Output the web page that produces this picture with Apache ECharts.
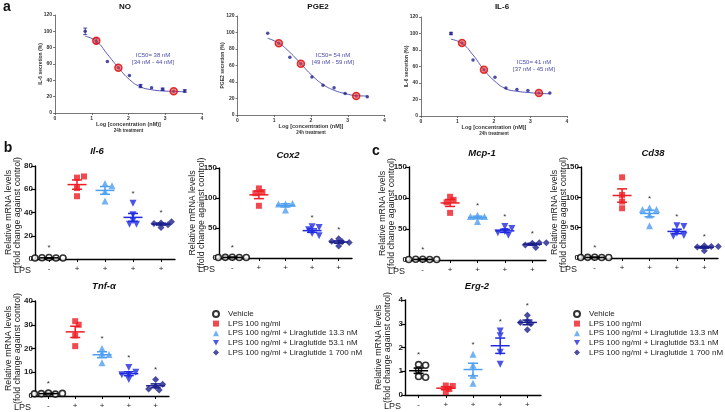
<!DOCTYPE html>
<html><head><meta charset="utf-8">
<script src="https://cdn.jsdelivr.net/npm/echarts@6/dist/echarts.min.js"></script>
<style>html,body{margin:0;padding:0;background:#fff}#c{width:725px;height:412px}</style>
</head><body><div id="c"></div>
<script>
// ================= DATA =================
// Panel a: dose-response (x = log10 concentration, nM)
const logConc = [0.822, 1.124, 1.425, 1.725, 2.026, 2.327, 2.628, 2.929, 3.230, 3.531];
const markIdx = [1, 3, 8]; // 13.3, 53.1, 1700 nM
const noMean  = [100, 88, 63, 55.5, 46, 33, 31, 29, 26.5, 27];
const noErr   = [4, 3, 0, 0, 0, 2, 0, 1.5, 0, 1.5];
const noFit   = [94, 88, 72, 55.5, 41, 32, 28.5, 27, 26.5, 26];
const noMark  = [88.5, 55.5, 26.5];
const pgeMean = [99, 87, 70, 62, 46, 36, 33, 26, 23, 22];
const pgeErr  = [0, 0, 0, 0, 0, 0, 0, 0, 0, 0];
const pgeFit  = [93, 87, 76, 62, 48, 37, 30, 26, 23.5, 23];
const pgeMark = [87, 62, 23];
const il6Mean = [100, 88.5, 68, 56, 47, 34, 32, 31, 28, 28];
const il6Err  = [1.5, 0, 0, 0, 0, 0, 0, 0, 0, 0];
const il6Fit  = [93, 88, 74, 56, 42, 33, 30, 28.5, 27.5, 27];
const il6Mark = [88.5, 56, 28];

// Panels b, c: relative mRNA levels per group
const groupNames = ['Vehicle', 'LPS 100 ng/ml', 'LPS 100 ng/ml + Liraglutide 13.3 nM',
  'LPS 100 ng/ml + Liraglutide 53.1 nM', 'LPS 100 ng/ml + Liraglutide 1 700 nM'];
const lpsSigns = ['-', '+', '+', '+', '+'];
const il6Vals  = [[1.3, 0.8, 1.1, 0.9, 0.9], [70, 71, 61, 54], [65, 63, 58, 50], [48, 38, 33, 30, 30], [31, 29.5, 30.5, 32, 27]];
const il6Sig   = [1, 0, 0, 1, 1];
const cox2Vals = [[1.3, 0.8, 1.1, 0.9, 0.9], [116, 110, 108, 87], [90, 91, 90, 80], [52, 51, 47, 41, 37], [32, 27, 28, 20, 26]];
const cox2Sig  = [1, 0, 0, 1, 1];
const mcp1Vals = [[1.3, 0.8, 1.1, 0.9, 0.9], [102, 97, 93, 76], [72, 70, 70, 62], [54, 51, 46, 44, 40], [27, 28, 20, 24, 28]];
const mcp1Sig  = [1, 0, 1, 1, 1];
const cd38Vals = [[1.3, 0.8, 1.1, 0.9, 0.9], [133, 104, 93, 82], [83, 80, 80, 71, 53], [53, 52, 41, 37, 36], [20, 19, 18, 19, 12]];
const cd38Sig  = [1, 0, 1, 1, 1];
const tnfVals  = [[1.2, 0.8, 1.0, 1.1, 0.9], [31.5, 30, 25.5, 21], [20, 18, 17.5, 14], [12, 9, 7, 10, 9], [7, 4, 2.5, 3, 5]];
const tnfSig   = [1, 0, 1, 1, 1];
const erg2Vals = [[1.28, 1.25, 1.05, 0.78, 0.75], [0.4, 0.38, 0.25, 0.12], [1.72, 1.25, 0.82, 0.5], [2.7, 2.5, 1.8, 1.3], [3.36, 3.12, 3.0, 3.05, 2.75]];
const erg2Sig  = [1, 0, 1, 1, 1];

// ================= LAYOUT / STYLE =================
const FONT = '"Liberation Sans", Arial, Helvetica, sans-serif';
const groupColors = ['#000000', '#ee1c24', '#4f9ff0', '#1f2ae0', '#1b1f8c'];
const groupSymbols = ['circle', 'rect', 'triangle', 'path://M0,0L10,0L5,9Z', 'diamond'];
const groupSizes = [6, 6, 7, 7, 7];

const topPanels = [
  {title: 'NO', tx: 125, yName: 'IL-6 secretion (%)', mean: noMean, err: noErr, fit: noFit, mark: noMark,
   ic: ['IC50= 38 nM', '[34 nM - 44 nM]'], icx: 153, icy: 55, grid: {left: 55, top: 15, width: 147, height: 98}},
  {title: 'PGE2', tx: 318, yName: 'PGE2 secretion (%)', mean: pgeMean, err: pgeErr, fit: pgeFit, mark: pgeMark,
   ic: ['IC50= 54 nM', '[49 nM - 59 nM]'], icx: 333, icy: 55, grid: {left: 237.5, top: 16, width: 147, height: 99}},
  {title: 'IL-6', tx: 502, yName: 'IL-6 secretion (%)', mean: il6Mean, err: il6Err, fit: il6Fit, mark: il6Mark,
   ic: ['IC50= 41 nM', '[37 nM - 45 nM]'], icx: 534, icy: 62, grid: {left: 421, top: 17, width: 146, height: 99}}
];

const bottomPanels = [
  {title: 'Il-6',  tx: 97,  ty: 151, vals: il6Vals,  sig: il6Sig,  max: 80,  step: 20, grid: {left: 35,  top: 166, width: 140, height: 93}},
  {title: 'Cox2',  tx: 288, ty: 155, vals: cox2Vals, sig: cox2Sig, max: 150, step: 50, grid: {left: 219, top: 168, width: 133, height: 90}},
  {title: 'Mcp-1', tx: 482, ty: 153, vals: mcp1Vals, sig: mcp1Sig, max: 150, step: 50, grid: {left: 409, top: 167, width: 137, height: 93}},
  {title: 'Cd38',  tx: 653, ty: 153, vals: cd38Vals, sig: cd38Sig, max: 150, step: 50, grid: {left: 581, top: 167, width: 137, height: 91}},
  {title: 'Tnf-α', tx: 104, ty: 286, vals: tnfVals,  sig: tnfSig,  max: 40,  step: 10, grid: {left: 35,  top: 301, width: 134, height: 95}},
  {title: 'Erg-2', tx: 477, ty: 286, vals: erg2Vals, sig: erg2Sig, max: 4,   step: 1,  grid: {left: 405, top: 300, width: 136, height: 95}}
];

// ================= BUILD =================
const grids = [], xAxes = [], yAxes = [], series = [], graphics = [];

function txt(x, y, s, style) {
  graphics.push({type: 'text', x: x, y: y, style: Object.assign({text: s, fontFamily: FONT, fill: '#111',
    textAlign: 'center', textVerticalAlign: 'middle'}, style)});
}

topPanels.forEach(p => {
  const gi = grids.length;
  grids.push(Object.assign({outerBoundsMode: 'none', containLabel: false}, p.grid));
  const axisCol = '#555';
  xAxes.push({type: 'value', gridIndex: gi, min: 0, max: 4, interval: 1,
    axisLine: {show: true, lineStyle: {color: axisCol, width: 0.8}},
    axisTick: {show: true, length: 2, lineStyle: {color: axisCol, width: 0.8}},
    axisLabel: {fontSize: 5, fontWeight: 'bold', color: '#333', margin: 3, fontFamily: FONT},
    splitLine: {show: false},
    name: 'Log [concentration (nM)]\n{s|24h treatment}', nameLocation: 'middle', nameGap: 8, nameMoveOverlap: false,
    nameTextStyle: {fontSize: 5.5, fontWeight: 'bold', color: '#333', lineHeight: 6.5, fontFamily: FONT,
      rich: {s: {fontSize: 4.5, fontWeight: 'bold', color: '#333', lineHeight: 6.5, fontFamily: FONT}}}});
  yAxes.push({type: 'value', gridIndex: gi, min: 0, max: 120, interval: 20,
    axisLine: {show: true, lineStyle: {color: axisCol, width: 0.8}},
    axisTick: {show: true, length: 2, lineStyle: {color: axisCol, width: 0.8}},
    axisLabel: {fontSize: 5, fontWeight: 'bold', color: '#333', margin: 3, fontFamily: FONT},
    splitLine: {show: false},
    name: p.yName, nameLocation: 'middle', nameGap: 12, nameMoveOverlap: false,
    nameTextStyle: {fontSize: 5, fontWeight: 'bold', color: '#333', fontFamily: FONT}});
  series.push({type: 'line', xAxisIndex: gi, yAxisIndex: gi, smooth: 0.5, symbol: 'none', silent: true,
    lineStyle: {color: '#5a5ab4', width: 1}, z: 2,
    data: logConc.map((x, i) => [x, p.fit[i]])});
  series.push({type: 'custom', xAxisIndex: gi, yAxisIndex: gi, z: 3, silent: true,
    data: logConc.map((x, i) => [x, p.mean[i] - p.err[i], p.mean[i] + p.err[i]]).filter(d => d[2] > d[1]),
    encode: {x: 0, y: [1, 2]},
    renderItem: (params, api) => {
      const a = api.coord([api.value(0), api.value(1)]), b = api.coord([api.value(0), api.value(2)]);
      const st = {stroke: '#1f1f8f', lineWidth: 0.8};
      return {type: 'group', children: [
        {type: 'line', shape: {x1: a[0], y1: a[1], x2: b[0], y2: b[1]}, style: st},
        {type: 'line', shape: {x1: a[0] - 2, y1: a[1], x2: a[0] + 2, y2: a[1]}, style: st},
        {type: 'line', shape: {x1: b[0] - 2, y1: b[1], x2: b[0] + 2, y2: b[1]}, style: st}]};
    }});
  series.push({type: 'scatter', xAxisIndex: gi, yAxisIndex: gi, symbol: 'circle', symbolSize: 3.5, z: 4, silent: true,
    itemStyle: {color: '#1f1f8f'}, data: logConc.map((x, i) => [x, p.mean[i]])});
  series.push({type: 'scatter', xAxisIndex: gi, yAxisIndex: gi, symbol: 'circle', symbolSize: 7, z: 5, silent: true,
    itemStyle: {color: 'rgba(235,70,70,0.75)', borderColor: '#e00000', borderWidth: 1.5},
    data: markIdx.map((k, j) => [logConc[k], p.mark[j]])});
  txt(p.tx, 7, p.title, {fontSize: 8, fontWeight: 'bold'});
  txt(p.icx, p.icy, p.ic[0], {fontSize: 6, fill: '#4b4ba8'});
  txt(p.icx, p.icy + 7.5, p.ic[1], {fontSize: 6, fill: '#4b4ba8'});
});

function swarm(vals, pxPerUnit) {
  const step = 3.5, minD = 4.5, placed = [];
  return vals.map(v => {
    const y = v * pxPerUnit;
    let off = 0;
    for (let t = 0; t < 30; t++) {
      const k = Math.ceil(t / 2), sgn = t % 2 === 1 ? 1 : -1;
      off = sgn * k * step;
      if (!placed.some(q => Math.hypot(q[0] - off, q[1] - y) < minD)) break;
    }
    placed.push([off, y]);
    return off;
  });
}

bottomPanels.forEach(p => {
  const gi = grids.length;
  grids.push(Object.assign({outerBoundsMode: 'none', containLabel: false}, p.grid));
  xAxes.push({type: 'category', gridIndex: gi, data: lpsSigns, boundaryGap: true,
    axisLine: {show: true, onZero: false, lineStyle: {color: '#000', width: 1.4}},
    axisTick: {show: true, alignWithLabel: true, length: 3, lineStyle: {color: '#000', width: 1}},
    axisLabel: {fontSize: 8, color: '#222', margin: 6, fontFamily: FONT, interval: 0},
    splitLine: {show: false},
    name: 'LPS', nameLocation: 'start', nameGap: 4, nameMoveOverlap: false,
    nameTextStyle: {fontSize: 9, color: '#222', fontFamily: FONT, verticalAlign: 'top', padding: [7, 0, 0, 0]}});
  yAxes.push({type: 'value', gridIndex: gi, min: 0, max: p.max, interval: p.step,
    axisLine: {show: true, lineStyle: {color: '#000', width: 1.4}},
    axisTick: {show: true, length: 4, lineStyle: {color: '#000', width: 1.2}},
    axisLabel: {fontSize: 8, fontWeight: 'bold', color: '#222', margin: 2, fontFamily: FONT},
    splitLine: {show: false},
    name: 'Relative mRNA levels\n(fold change against control)', nameLocation: 'middle', nameGap: 13, nameMoveOverlap: false,
    nameTextStyle: {fontSize: 8.8, lineHeight: 8.8, color: '#222', fontFamily: FONT}});
  const pxPerUnit = p.grid.height / p.max;
  const stats = [], stars = [];
  p.vals.forEach((vals, g) => {
    const offs = swarm(vals, pxPerUnit);
    series.push({type: 'scatter', name: groupNames[g], xAxisIndex: gi, yAxisIndex: gi, z: 3,
      symbol: groupSymbols[g], symbolSize: groupSizes[g],
      itemStyle: g === 0 ? {color: '#ffffff', borderColor: '#000', borderWidth: 1.6} : {color: groupColors[g]},
      data: vals.map((v, i) => ({value: [g, v], symbolOffset: [offs[i], 0]}))});
    const n = vals.length, m = vals.reduce((a, b) => a + b, 0) / n;
    const sd = Math.sqrt(vals.reduce((a, b) => a + (b - m) * (b - m), 0) / (n - 1));
    const sem = sd / Math.sqrt(n);
    stats.push([g, m, m - sem, m + sem]);
    if (p.sig[g]) stars.push([g, Math.max(...vals) + p.max * 0.1]);
  });
  series.push({type: 'custom', xAxisIndex: gi, yAxisIndex: gi, z: 4, silent: true, data: stats,
    encode: {x: 0, y: [1, 2, 3]},
    renderItem: (params, api) => {
      const g = api.value(0);
      const c = api.coord([g, api.value(1)]), lo = api.coord([g, api.value(2)]), hi = api.coord([g, api.value(3)]);
      const col = groupColors[g];
      const st = {stroke: col, lineWidth: 1.5};
      return {type: 'group', children: [
        {type: 'line', shape: {x1: c[0] - 9.5, y1: c[1], x2: c[0] + 9.5, y2: c[1]}, style: st},
        {type: 'line', shape: {x1: lo[0], y1: lo[1], x2: hi[0], y2: hi[1]}, style: st},
        {type: 'line', shape: {x1: lo[0] - 5, y1: lo[1], x2: lo[0] + 5, y2: lo[1]}, style: st},
        {type: 'line', shape: {x1: hi[0] - 5, y1: hi[1], x2: hi[0] + 5, y2: hi[1]}, style: st}]};
    }});
  series.push({type: 'custom', xAxisIndex: gi, yAxisIndex: gi, z: 4, silent: true, data: stars,
    encode: {x: 0, y: 1},
    renderItem: (params, api) => {
      const c = api.coord([api.value(0), api.value(1)]);
      return {type: 'text', x: c[0], y: c[1], style: {text: '*', fontSize: 8, fontFamily: FONT, fill: '#333',
        textAlign: 'center', textVerticalAlign: 'middle'}};
    }});
  txt(p.tx, p.ty, p.title, {fontSize: 9.5, fontWeight: 'bold', fontStyle: 'italic'});
});

txt(7, 7, 'a', {fontSize: 14, fontWeight: 'bold'});
txt(8, 148, 'b', {fontSize: 14, fontWeight: 'bold'});
txt(376, 151, 'c', {fontSize: 14, fontWeight: 'bold'});

const legendBase = {orient: 'vertical', top: 310, padding: 0, itemWidth: 6, itemHeight: 6, itemGap: 1.6,
  data: groupNames, selectedMode: false,
  textStyle: {fontSize: 8, lineHeight: 8, color: '#222', fontFamily: FONT, padding: [0, 0, 0, 4]}};

const option = {
  animation: false,
  backgroundColor: '#fff',
  grid: grids, xAxis: xAxes, yAxis: yAxes, series: series,
  legend: [Object.assign({left: 212}, legendBase), Object.assign({left: 573}, legendBase)],
  graphic: graphics
};
const chart = echarts.init(document.getElementById('c'));
chart.setOption(option);
</script></body></html>
